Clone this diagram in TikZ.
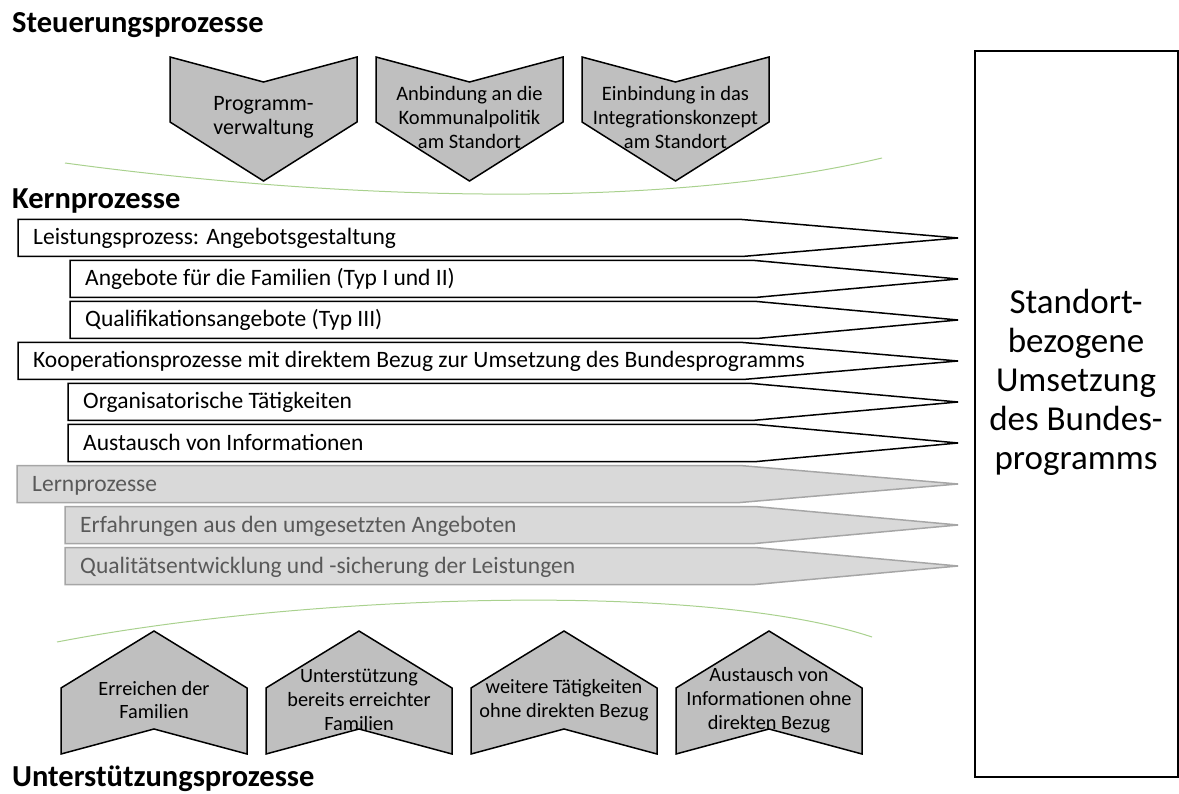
\documentclass[tikz,border=0pt]{standalone}
\usepackage{fontspec}
\setmainfont{Carlito}
\usetikzlibrary{positioning}
\definecolor{chevGray}{HTML}{BFBFBF}
\definecolor{lernFill}{HTML}{D9D9D9}
\definecolor{lernLine}{HTML}{A6A6A6}
\definecolor{lernText}{HTML}{595959}
\definecolor{arcGreen}{HTML}{A9D18E}

\begin{document}
\begin{tikzpicture}[x=1pt, y=-1pt,
    titel/.style={anchor=base west, inner sep=0pt, font=\fontsize{30.5}{36}\selectfont\bfseries},
    kernpfeil/.style={draw=black, fill=white, line width=1.5pt},
    lernpfeil/.style={draw=lernLine, fill=lernFill, line width=1.5pt},
    kerntext/.style={anchor=base west, inner sep=0pt, font=\fontsize{23.5}{28}\selectfont},
    lerntext/.style={kerntext, text=lernText},
    chevron/.style={draw=black, fill=chevGray, line width=1.5pt},
    chevtext/.style={align=center, inner sep=0pt, font=\fontsize{20.3}{23.7}\selectfont},
    bogen/.style={draw=arcGreen, line width=1pt}]
  \useasboundingbox (0,0) rectangle (1179,794);

  % Ueberschriften
  \node[titel] (steuerung) at (12,33) {Steuerungsprozesse};
  \node[titel] (kern) at (12,209) {Kernprozesse};
  \node[titel] (unterst) at (12,786) {Unterstützungsprozesse};

  % Steuerungsprozesse
  \foreach \xl/\fs/\txt [count=\i] in {170/22/{Programm-\\verwaltung},
      376/20.5/{Anbindung an die\\Kommunalpolitik\\am Standort},
      582/20.5/{Einbindung in das\\Integrationskonzept\\am Standort}} {
    \draw[chevron] (\xl,57) -- (\xl+93.5,82) -- (\xl+187,57) -- (\xl+187,122)
      -- (\xl+93.5,181) -- (\xl,122) -- cycle;
    \node[chevtext, font=\fontsize{\fs}{24}\selectfont] (steu\i) at (\xl+93.5,117) {\txt};
  }
  \draw[bogen] (65,163) .. controls (300,195) and (640,215) .. (882,158);

  % Kernprozesse
  \foreach \l/\s/\y/\txt [count=\i] in {18/742/238/{Leistungsprozess: Angebotsgestaltung},
      70/755/279/{Angebote für die Familien (Typ I und II)},
      70/757/320/{Qualifikationsangebote (Typ III)},
      18/743/361/{Kooperationsprozesse mit direktem Bezug zur Umsetzung des Bundesprogramms},
      68/752/402/{Organisatorische Tätigkeiten},
      68/757/443/{Austausch von Informationen}} {
    \draw[kernpfeil] (\l,\y-18.5) -- (\s,\y-18.5) -- (958,\y) -- (\s,\y+18.5)
      -- (\l,\y+18.5) -- cycle;
    \node[kerntext] (kern\i) at (\l+15,\y+7) {\txt};
  }
  \foreach \l/\s/\y/\txt [count=\i] in {17/740/484/{Lernprozesse},
      65/755/525/{Erfahrungen aus den umgesetzten Angeboten},
      65/755/566/{Qualitätsentwicklung und -sicherung der Leistungen}} {
    \draw[lernpfeil] (\l,\y-18.5) -- (\s,\y-18.5) -- (958,\y) -- (\s,\y+18.5)
      -- (\l,\y+18.5) -- cycle;
    \node[lerntext] (lern\i) at (\l+15,\y+7) {\txt};
  }

  % Unterstuetzungsprozesse
  \draw[bogen] (57,642) .. controls (300,595) and (700,580) .. (872,637);
  \foreach \xl/\txt [count=\i] in {61/{Erreichen der\\Familien},
      266/{Unterstützung\\bereits erreichter\\Familien},
      471/{weitere Tätigkeiten\\ohne direkten Bezug},
      676/{Austausch von\\Informationen ohne\\direkten Bezug}} {
    \draw[chevron] (\xl,754) -- (\xl,688) -- (\xl+93,631) -- (\xl+186,688)
      -- (\xl+186,754) -- (\xl+93,729) -- cycle;
    \node[chevtext] (unt\i) at (\xl+93,700) {\txt};
  }

  % Ziel
  \node[draw, line width=1.5pt, minimum width=203pt, minimum height=726pt] (ziel) at (1076.5,414) {};
  \node[align=center, inner sep=0pt, font=\fontsize{35}{39}\selectfont] (zieltext) at (1076,382)
    {Standort-\\bezogene\\Umsetzung\\des Bundes-\\programms};
\end{tikzpicture}
\end{document}
